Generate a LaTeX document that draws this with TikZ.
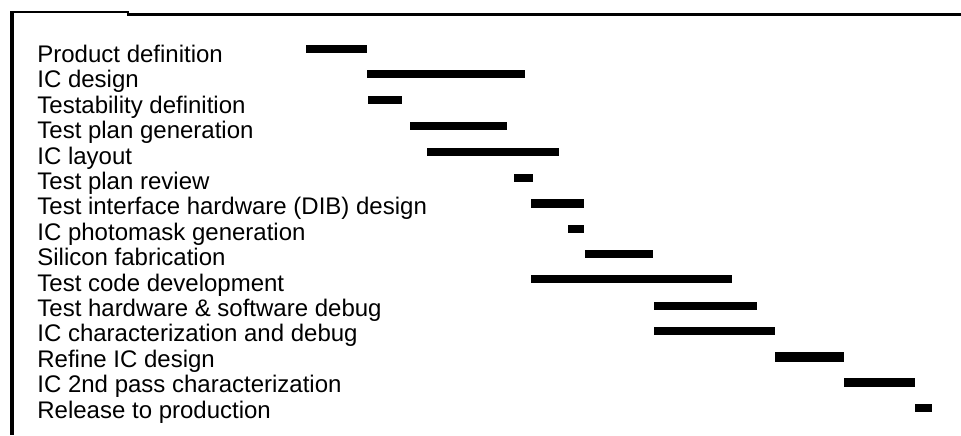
\documentclass[tikz,border=0pt]{standalone}
\usepackage{fontspec}
\setmainfont{Liberation Sans}
\usepackage{tikz}

\tikzset{
	tasklabel/.style={anchor=base west, inner sep=0pt},
	taskbar/.style={fill=black}
}

\begin{document}
\begin{tikzpicture}[x=0.5pt, y=-0.5pt, every node/.style={font=\fontsize{12pt}{14pt}\selectfont}]
		\useasboundingbox (0,0) rectangle (961,435);
		% frame
		\draw[line width=1.4pt] (10.5,12) -- (128,12) -- (128,14.7) -- (961,14.7);
		\draw[line width=1.8pt] (12,11) -- (12,435);
		% task names
		\node[tasklabel] (prod) at (37,62.5) {Product definition};
		\node[tasklabel] (icdes) at (37,87.9) {IC design};
		\node[tasklabel] (testab) at (37,113.3) {Testability definition};
		\node[tasklabel] (plangen) at (37,138.7) {Test plan generation};
		\node[tasklabel] (layout) at (37,164.1) {IC layout};
		\node[tasklabel] (planrev) at (37,189.5) {Test plan review};
		\node[tasklabel] (dib) at (37,214.9) {Test interface hardware (DIB) design};
		\node[tasklabel] (mask) at (37,240.3) {IC photomask generation};
		\node[tasklabel] (fab) at (37,265.7) {Silicon fabrication};
		\node[tasklabel] (code) at (37,291.1) {Test code development};
		\node[tasklabel] (hwsw) at (37,316.5) {Test hardware \& software debug};
		\node[tasklabel] (char) at (37,341.9) {IC characterization and debug};
		\node[tasklabel] (refine) at (37,367.3) {Refine IC design};
		\node[tasklabel] (second) at (37,392.7) {IC 2nd pass characterization};
		\node[tasklabel] (release) at (37,418.1) {Release to production};
		% schedule bars
		\fill[taskbar] (306,45) rectangle (367,53);
		\fill[taskbar] (367,70) rectangle (525,78);
		\fill[taskbar] (368,96) rectangle (402,104);
		\fill[taskbar] (410,121.5) rectangle (507,129.5);
		\fill[taskbar] (427,148) rectangle (559,156);
		\fill[taskbar] (514,173.5) rectangle (533,181.5);
		\fill[taskbar] (531,199) rectangle (584,208);
		\fill[taskbar] (568,225) rectangle (584,233);
		\fill[taskbar] (585,250) rectangle (653,258);
		\fill[taskbar] (531,275) rectangle (732,283);
		\fill[taskbar] (654,302) rectangle (757,310);
		\fill[taskbar] (654,327) rectangle (775,335);
		\fill[taskbar] (775,352) rectangle (844,362);
		\fill[taskbar] (844,378) rectangle (915,387);
		\fill[taskbar] (915,404) rectangle (932,412);
	\end{tikzpicture}
\end{document}
